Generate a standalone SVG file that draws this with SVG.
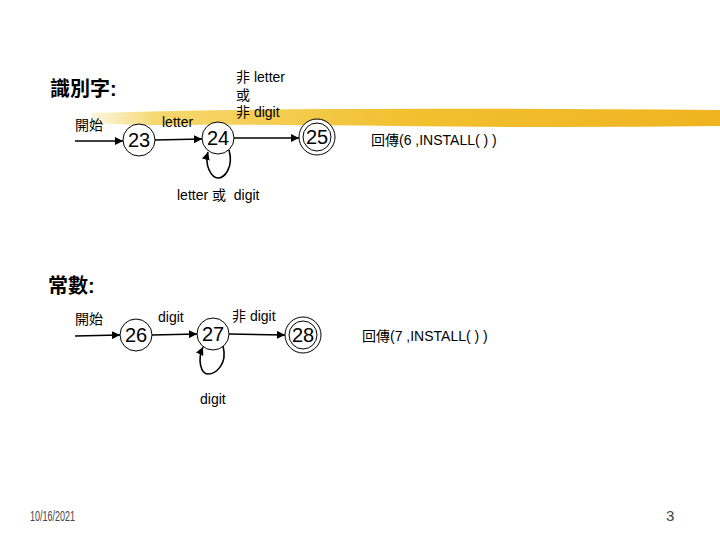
<svg xmlns="http://www.w3.org/2000/svg" width="720" height="540" viewBox="0 0 720 540">
<defs>
<linearGradient id="brush" x1="0" y1="0" x2="1" y2="0">
<stop offset="0" stop-color="#f9e6a0" stop-opacity="0.4"/>
<stop offset="0.1" stop-color="#f6d870"/>
<stop offset="0.5" stop-color="#f2c030"/>
<stop offset="1" stop-color="#efb420"/>
</linearGradient>
<marker id="ah" viewBox="0 0 10 10" refX="10" refY="5" markerWidth="8" markerHeight="8" markerUnits="userSpaceOnUse" orient="auto">
<path d="M0,0 L10,5 L0,10 z" fill="#000"/>
</marker>
</defs>
<style>
text{font-family:"Liberation Sans","Noto Sans CJK TC",sans-serif;fill:#000}
.lbl{font-size:14px}
.num{font-size:20px}
.title{font-size:20px;font-weight:bold}
.foot{font-family:"Liberation Sans",sans-serif;font-size:15px;fill:#444}
.st{fill:#fff;stroke:#000;stroke-width:1}
.edge{fill:none;stroke:#000;stroke-width:1.6}
</style>
<rect width="720" height="540" fill="#fff"/>
<path d="M92,113 Q200,110 330,109 T720,110 L720,126 Q560,128 400,126 T140,125 Q110,124 92,123 z" fill="url(#brush)"/>

<text class="title" x="50" y="96">識別字:</text>
<text class="title" x="48" y="293">常數:</text>

<g id="connectors">
<line class="edge" x1="75" y1="141" x2="123" y2="141" marker-end="url(#ah)"/>
<line class="edge" x1="155" y1="140" x2="202" y2="139" marker-end="url(#ah)"/>
<path class="edge" d="M229,150 C234,168 224,178 218,178 C212,178 204,166 208,152" marker-end="url(#ah)"/>
<line class="edge" x1="234" y1="138" x2="299" y2="138" marker-end="url(#ah)"/>
<line class="edge" x1="75" y1="336" x2="120" y2="335" marker-end="url(#ah)"/>
<line class="edge" x1="152" y1="335" x2="197" y2="334" marker-end="url(#ah)"/>
<path class="edge" d="M223,346 C228,365 215,374 208,374 C201,374 197,360 203,347" marker-end="url(#ah)"/>
<line class="edge" x1="229" y1="334" x2="285" y2="335" marker-end="url(#ah)"/>
</g>

<g id="n23"><circle class="st" cx="139" cy="140" r="16"/><text class="num" x="139" y="147" text-anchor="middle">23</text></g>
<g id="n24"><circle class="st" cx="218" cy="138" r="16"/><text class="num" x="218" y="145" text-anchor="middle">24</text></g>
<g id="n25"><circle class="st" cx="317" cy="137" r="18"/><circle class="st" cx="317" cy="137" r="14"/><text class="num" x="317" y="144" text-anchor="middle">25</text></g>
<g id="n26"><circle class="st" cx="136" cy="335" r="16"/><text class="num" x="136" y="342" text-anchor="middle">26</text></g>
<g id="n27"><circle class="st" cx="213" cy="334" r="16"/><text class="num" x="213" y="341" text-anchor="middle">27</text></g>
<g id="n28"><circle class="st" cx="303" cy="335" r="18"/><circle class="st" cx="303" cy="335" r="14"/><text class="num" x="303" y="342" text-anchor="middle">28</text></g>

<text class="lbl" x="75" y="130">開始</text>
<text class="lbl" x="162" y="127">letter</text>
<text class="lbl" x="236" y="82">非 letter</text>
<text class="lbl" x="236" y="100">或</text>
<text class="lbl" x="236" y="117">非 digit</text>
<text class="lbl" x="177" y="200">letter 或&#160;&#160;digit</text>
<text class="lbl" x="371" y="145">回傳(6 ,INSTALL( ) )</text>

<text class="lbl" x="75" y="324">開始</text>
<text class="lbl" x="158" y="322">digit</text>
<text class="lbl" x="232" y="321">非 digit</text>
<text class="lbl" x="200" y="404">digit</text>
<text class="lbl" x="362" y="341">回傳(7 ,INSTALL( ) )</text>

<text class="foot" x="30" y="521" textLength="45" lengthAdjust="spacingAndGlyphs">10/16/2021</text>
<text class="foot" x="666" y="521">3</text>
</svg>
